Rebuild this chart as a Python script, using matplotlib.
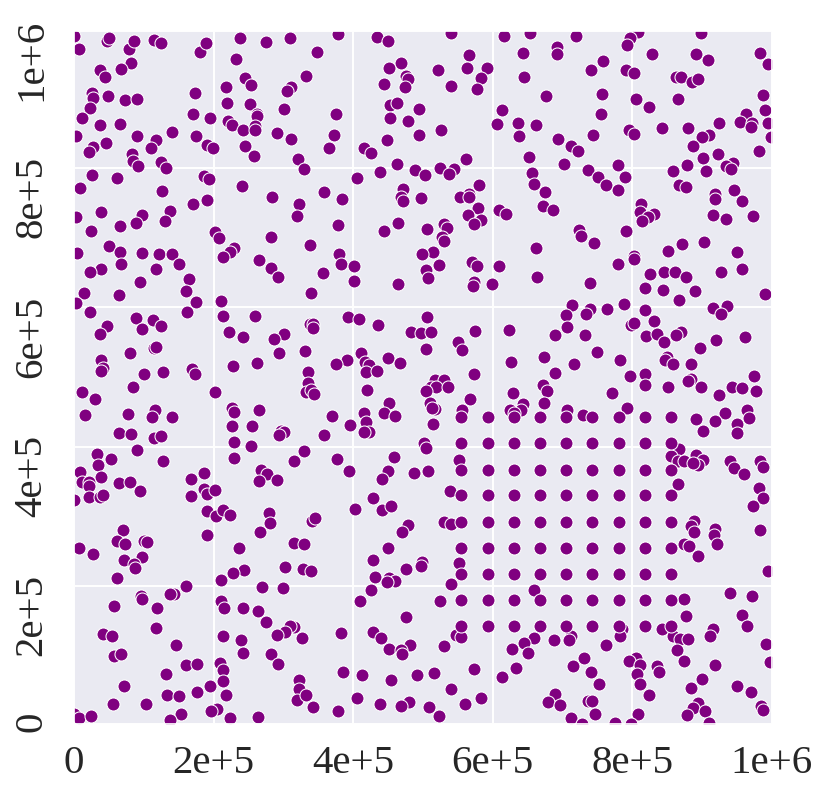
import numpy as np
import pandas as pd
import seaborn as sns
from matplotlib import pyplot as plt
from matplotlib.transforms import ScaledTranslation

# the regular block of points, lower middle-right
grid_x = [555, 593, 630, 668, 705, 743, 781, 819, 856]
grid_y = [142.5, 180, 217, 255, 292, 330, 367, 405, 442]

# scattered points in thousands in 3x3 patches
x_top_left = [0.5, 7, 47, 50, 79, 86, 115, 125, 180, 189, 238, 275, 310, 232, 82, 67, 37, 44, 245, 253, 218, 311, 305, 26, 27, 49, 73, 91, 174, 219, 252, 23, 301, 12, 170, 195, 262, 262, 221, 227, 37, 66, 242, 259, 259, 141, 291, 2.5, 91, 175, 311, 118, 46, 27, 22, 110, 191, 199, 245, 83, 85, 92, 258, 125, 132, 321, 26, 62, 186, 194, 8, 126, 241, 284, 190, 171, 323, 320, 138, 39, 98, 2.5, 130, 89, 66, 25, 202, 208, 282, 50, 230, 223, 5, 66, 98, 122, 141, 214, 265]
y_top_left = [990, 971, 982, 986, 971, 982, 984, 980, 967, 979, 987, 981, 987, 956, 951, 942, 941, 931, 929, 919, 916, 916, 910, 907, 900, 904, 897, 899, 908, 893, 892, 886, 885, 872, 877, 871, 878, 874, 868, 862, 862, 863, 854, 860, 854, 851, 850, 846, 846, 846, 841, 840, 836, 830, 823, 829, 833, 829, 832, 820, 810, 803, 817, 808, 800, 813, 790, 785, 789, 784, 771, 767, 774, 758, 754, 748, 749, 731, 738, 737, 732, 730, 724, 721, 717, 710, 708, 700, 701, 688, 685, 679, 678, 679, 678, 677, 676, 672, 668]

x_top_mid = [378, 434, 450, 541, 616, 654, 349, 566, 644, 468, 451, 563, 521, 592, 332, 476, 478, 584, 645, 444, 475, 540, 578, 375, 453, 463, 495, 613, 453, 478, 606, 636, 662, 372, 495, 526, 638, 449, 365, 415, 426, 562, 652, 463, 329, 438, 489, 525, 544, 538, 503, 656, 405, 659, 581, 471, 359, 384, 566, 553, 566, 468, 471, 498, 579, 609, 619, 565, 584, 573, 465, 378, 445, 530, 535, 506, 528, 531, 338, 380, 514, 499, 662]
y_top_mid = [992, 988, 982, 994, 990, 994, 966, 962, 965, 951, 943, 943, 941, 943, 932, 932, 927, 929, 931, 921, 916, 918, 914, 878, 891, 893, 885, 883, 871, 868, 863, 865, 861, 847, 848, 854, 846, 840, 828, 828, 821, 813, 816, 805, 798, 794, 797, 800, 799, 791, 790, 793, 785, 777, 776, 770, 765, 755, 762, 759, 758, 759, 753, 757, 743, 740, 734, 733, 726, 719, 721, 718, 709, 720, 714, 712, 701, 695, 690, 677, 680, 676, 685]

x_top_right = [720, 692, 692, 808, 797, 792, 898, 829, 892, 909, 983, 994, 758, 741, 791, 803, 863, 870, 886, 895, 676, 757, 806, 866, 987, 824, 755, 991, 963, 954, 972, 971, 994, 924, 880, 843, 795, 803, 744, 910, 900, 999, 694, 887, 712, 723, 982, 923, 902, 702, 780, 879, 944, 935, 942, 906, 859, 736, 751, 790, 763, 780, 867, 877, 675, 946, 919, 919, 958, 813, 672, 686, 811, 831, 822, 814, 916, 934, 973, 724, 727, 791, 745, 903, 871, 852, 950, 802, 802]
y_top_right = [990, 973, 963, 995, 987, 976, 994, 963, 964, 955, 965, 949, 953, 941, 941, 936, 931, 931, 924, 928, 903, 906, 899, 899, 905, 888, 877, 883, 878, 866, 865, 859, 864, 864, 858, 857, 855, 849, 848, 848, 844, 844, 842, 831, 831, 825, 824, 820, 815, 805, 804, 804, 807, 803, 798, 796, 795, 797, 787, 787, 775, 769, 776, 773, 765, 769, 762, 756, 753, 749, 745, 739, 737, 734, 730, 724, 733, 727, 731, 711, 702, 710, 692, 694, 691, 681, 679, 673, 669]

x_mid_left = [68, 39, 23, 118, 151, 165, 95, 283, 293, 14, 65, 161, 2.5, 175, 211, 23, 162, 214, 260, 89, 113, 47, 124, 98, 37, 222, 242, 301, 286, 294, 114, 117, 80, 38, 41, 39, 228, 263, 100, 128, 169, 173, 84, 12, 202, 30, 16, 77, 116, 112, 140, 226, 229, 265, 227, 255, 64, 81, 115, 125, 297, 301, 294, 229, 254, 90, 33, 53, 128, 230, 315, 35, 9, 39, 268, 276, 186, 265, 291, 167, 12, 21, 21, 64, 80, 95, 186, 191, 202, 167, 22, 37, 41, 0.5]
y_mid_left = [662, 655, 650, 655, 662, 641, 636, 657, 644, 621, 617, 623, 606, 608, 609, 594, 594, 588, 588, 584, 582, 573, 573, 569, 561, 565, 557, 562, 554, 534, 541, 543, 534, 524, 513, 509, 516, 520, 504, 507, 511, 505, 485, 478, 479, 468, 445, 447, 453, 442, 443, 455, 450, 452, 429, 429, 419, 418, 413, 416, 422, 421, 417, 407, 401, 395, 390, 382, 379, 384, 380, 373, 364, 357, 366, 361, 362, 351, 352, 353, 349, 350, 344, 348, 350, 337, 339, 332, 338, 329, 328, 328, 331, 324]

x_mid_mid = [383, 402, 357, 401, 339, 464, 523, 505, 507, 571, 578, 609, 663, 573, 572, 599, 393, 409, 506, 338, 343, 343, 436, 483, 497, 511, 575, 624, 551, 556, 504, 331, 411, 391, 376, 417, 423, 450, 467, 627, 418, 434, 335, 573, 336, 420, 333, 339, 344, 518, 530, 512, 519, 536, 504, 629, 567, 510, 518, 513, 451, 643, 625, 640, 630, 556, 416, 445, 460, 370, 418, 515, 396, 423, 415, 358, 501, 505, 330, 459, 377, 552, 394, 450, 488, 508, 442, 539, 428]
y_mid_mid = [662, 659, 649, 638, 620, 633, 661, 654, 642, 665, 659, 659, 644, 636, 631, 634, 586, 583, 586, 576, 576, 571, 574, 565, 563, 565, 566, 568, 550, 539, 540, 537, 535, 525, 519, 521, 517, 527, 520, 522, 507, 509, 507, 504, 492, 482, 478, 481, 475, 495, 496, 486, 485, 485, 480, 477, 469, 462, 454, 455, 463, 461, 453, 452, 449, 453, 448, 448, 444, 444, 436, 433, 431, 421, 421, 417, 405, 398, 394, 385, 382, 381, 365, 365, 362, 365, 354, 337, 327]

x_mid_right = [780, 826, 846, 861, 877, 928, 957, 740, 818, 844, 890, 991, 867, 788, 714, 739, 734, 764, 705, 818, 916, 936, 928, 831, 798, 803, 707, 690, 732, 820, 835, 870, 863, 845, 920, 962, 897, 750, 674, 782, 850, 847, 858, 885, 716, 690, 818, 797, 975, 884, 880, 672, 819, 851, 898, 943, 958, 978, 678, 771, 924, 674, 707, 793, 964, 729, 933, 968, 892, 919, 950, 902, 950, 867, 856, 891, 902, 866, 874, 894, 887, 940, 983, 987, 946, 961, 866, 982, 987]
y_mid_right = [662, 648, 650, 651, 644, 651, 655, 635, 628, 625, 624, 619, 610, 605, 603, 598, 590, 597, 589, 596, 599, 602, 591, 580, 575, 577, 572, 560, 560, 559, 562, 564, 560, 550, 553, 557, 541, 536, 529, 524, 528, 524, 518, 519, 518, 506, 505, 501, 501, 497, 494, 488, 488, 485, 485, 486, 484, 480, 480, 477, 474, 463, 453, 455, 453, 446, 448, 441, 440, 437, 432, 423, 419, 396, 387, 388, 381, 380, 380, 374, 377, 380, 379, 371, 369, 361, 346, 340, 326]

x_low_left = [191, 203, 214, 224, 280, 281, 267, 70, 191, 61, 73, 100, 105, 315, 7, 27, 236, 72, 98, 86, 87, 302, 244, 228, 61, 211, 161, 270, 299, 143, 137, 96, 97, 210, 57, 119, 215, 242, 264, 275, 118, 315, 310, 303, 291, 41, 55, 214, 240, 146, 57, 67, 242, 282, 293, 161, 177, 209, 214, 132, 214, 195, 71, 323, 323, 319, 177, 133, 151, 218, 56, 103, 205, 196, 154, 0.5, 7, 24, 137, 223, 264]
y_low_left = [307, 301, 309, 302, 305, 290, 278, 280, 273, 264, 260, 264, 263, 262, 254, 246, 255, 237, 241, 232, 226, 227, 223, 218, 211, 209, 200, 198, 197, 189, 189, 185, 181, 179, 171, 168, 168, 169, 164, 149, 140, 141, 142, 134, 130, 131, 128, 129, 123, 116, 100, 102, 104, 103, 88, 87, 88, 89, 79, 74, 64, 57, 57, 65, 52, 37, 48, 44, 42, 43, 31, 30, 24, 20, 16, 16, 11, 13, 8, 11, 12]

x_low_mid = [403, 442, 455, 341, 345, 478, 470, 530, 540, 329, 450, 429, 499, 498, 552, 476, 328, 339, 432, 451, 460, 449, 541, 426, 659, 410, 525, 476, 383, 428, 440, 547, 554, 327, 482, 452, 468, 470, 530, 660, 645, 650, 628, 633, 613, 574, 386, 516, 491, 413, 455, 332, 541, 583, 405, 438, 560, 480, 469, 509, 342, 379, 523]
y_low_mid = [310, 309, 315, 293, 298, 287, 278, 292, 289, 260, 255, 237, 234, 229, 233, 225, 225, 221, 213, 211, 207, 206, 203, 195, 195, 178, 178, 156, 133, 134, 126, 130, 127, 125, 116, 110, 108, 102, 114, 125, 118, 104, 110, 83, 70, 81, 77, 75, 72, 72, 65, 43, 52, 39, 40, 30, 30, 33, 28, 27, 26, 20, 13]

x_low_right = [973, 889, 885, 888, 919, 918, 922, 983, 875, 881, 895, 994, 940, 972, 875, 957, 877, 965, 843, 916, 911, 859, 786, 782, 712, 709, 688, 763, 869, 880, 992, 864, 874, 731, 715, 806, 796, 811, 919, 998, 741, 807, 836, 839, 900, 752, 811, 884, 950, 970, 824, 690, 679, 697, 736, 742, 895, 887, 904, 984, 987, 747, 878, 809, 713, 728, 776, 798, 910]
y_low_right = [315, 294, 286, 277, 282, 273, 261, 281, 260, 258, 243, 222, 190, 186, 182, 159, 157, 142, 139, 139, 128, 129, 139, 128, 129, 122, 122, 116, 124, 124, 117, 108, 93, 97, 85, 97, 92, 87, 86, 91, 77, 74, 85, 76, 66, 59, 59, 54, 56, 48, 44, 45, 34, 29, 35, 35, 32, 25, 21, 28, 22, 16, 15, 16, 10, 2, 3, 2, 3]

x_ticks = [0, 200000, 400000, 600000, 800000, 1000000]
tick_labels = ['0', '2e+5', '4e+5', '6e+5', '8e+5', '1e+6']

if __name__ == '__main__':
    xs = x_top_left + x_top_mid + x_top_right + x_mid_left + x_mid_mid + x_mid_right + x_low_left + x_low_mid + x_low_right
    ys = y_top_left + y_top_mid + y_top_right + y_mid_left + y_mid_mid + y_mid_right + y_low_left + y_low_mid + y_low_right
    gx, gy = np.meshgrid(grid_x, grid_y)
    df = pd.DataFrame({'x': np.r_[xs, gx.ravel()] * 1000, 'y': np.r_[ys, gy.ravel()] * 1000})

    sns.set_theme(style='darkgrid', rc={'grid.linewidth': 1.4})
    plt.rcParams['font.family'] = ['Liberation Serif']

    fig = plt.figure(figsize=(8.3, 7.98), dpi=100)
    ax = fig.add_axes([74 / 830, 1 - 724 / 798, 697.7 / 830, 693.3 / 798])
    sns.scatterplot(data=df, x='x', y='y', color='purple', s=88, linewidth=0.75, ax=ax)
    ax.set_xlim(0, 1000000)
    ax.set_ylim(2000, 997000)
    ax.set_xlabel('')
    ax.set_ylabel('')
    ax.set_xticks(x_ticks)
    ax.set_xticklabels(tick_labels, fontsize=29.5)
    ax.set_yticks([2000] + x_ticks[1:-1] + [997000])
    ax.set_yticklabels(tick_labels, fontsize=29.5, rotation=90, va='top')
    ax.tick_params(axis='x', pad=9)
    ax.tick_params(axis='y', pad=11)

    # y labels sit a little above the top of their tick
    shift = ScaledTranslation(0, 12 / 100, fig.dpi_scale_trans)
    for label in ax.get_yticklabels():
        label.set_transform(label.get_transform() + shift)

    plt.savefig('out.png', dpi=100)
